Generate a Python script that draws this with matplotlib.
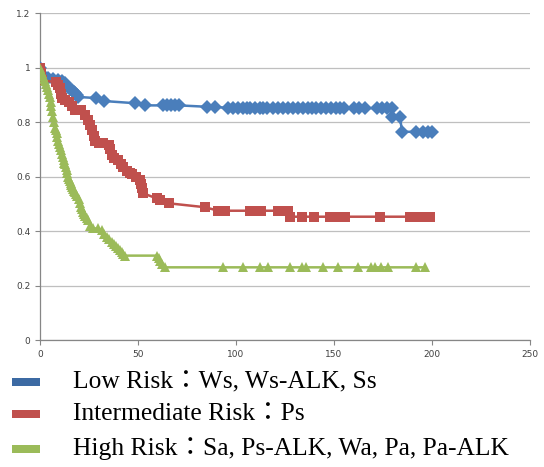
# -*- coding: utf-8 -*-
"""Survival curves by risk group (Excel-style scatter with lines)"""
import matplotlib
matplotlib.use('Agg')
import matplotlib.pyplot as plt
from matplotlib.patches import Rectangle

# ── data ──
low_x = [0, 2, 4.1, 6.5, 9.2, 11, 12.8, 14.3, 15.3, 16.3, 17.1, 17.9, 18.7, 19.4, 28.6, 32.7, 48.5, 53.6,
         63, 65, 67, 69, 71, 85, 89.5,
         96, 98.5, 101, 103.5, 105.5, 107, 109.5, 112, 114, 116, 119, 121.5, 124,
         126.5, 129, 131.5, 134, 136.5, 139, 141, 143.5, 146, 148.5, 151, 153, 155,
         160, 163, 166, 172, 174.5, 177, 179.5, 179.6, 183.7, 184.7, 192, 195.5, 198, 200]
low_y = [1.0, 0.97, 0.962, 0.958, 0.955, 0.95, 0.944, 0.929, 0.924, 0.918, 0.912, 0.907, 0.90, 0.893, 0.889, 0.878, 0.870, 0.862,
         0.862, 0.862, 0.862, 0.862, 0.862, 0.857, 0.857,
         0.852, 0.852, 0.852, 0.852, 0.852, 0.852, 0.852, 0.852, 0.852, 0.852, 0.852, 0.852, 0.852,
         0.852, 0.852, 0.852, 0.852, 0.852, 0.852, 0.852, 0.852, 0.852, 0.852, 0.852, 0.852, 0.852,
         0.852, 0.852, 0.852, 0.852, 0.852, 0.852, 0.852, 0.819, 0.819, 0.765, 0.765, 0.765, 0.765, 0.765]

mid_x = [0, 0.5, 1, 8, 9, 10, 10.5, 11, 13, 15, 16.5, 18, 19.5, 21, 23, 24.6, 25.5, 26.5, 27.3, 28, 30, 32, 35,
         35.8, 36.6, 38, 40, 41.5, 42.5, 44.5, 46, 47, 49, 51, 51.5, 52, 52.3, 59.6, 61, 66, 84,
         91, 94.5, 107, 110, 112.5, 121.5, 124, 126.5, 127.5, 133.6, 140,
         148, 150.5, 153, 155.6, 173.5, 189, 191.5, 194, 196.5, 199]
mid_y = [1.0, 0.98, 0.955, 0.947, 0.936, 0.925, 0.905, 0.888, 0.880, 0.874, 0.860, 0.845, 0.845, 0.845, 0.828, 0.808, 0.790, 0.770, 0.750, 0.730, 0.725, 0.722, 0.716,
         0.70, 0.680, 0.670, 0.660, 0.648, 0.636, 0.622, 0.615, 0.610, 0.598, 0.588, 0.575, 0.558, 0.540, 0.520, 0.515, 0.502, 0.488,
         0.475, 0.475, 0.475, 0.475, 0.475, 0.475, 0.475, 0.475, 0.453, 0.453, 0.453,
         0.453, 0.453, 0.453, 0.453, 0.453, 0.453, 0.453, 0.453, 0.453, 0.453]

high_x = [0, 0.5, 1, 1.5, 2, 2.5, 3, 3.5, 4, 4.5, 5, 5.4, 5.8, 6.2, 6.6, 7.1, 7.6, 8, 8.5, 8.9, 9.3, 9.7,
          10, 10.5, 11, 11.5, 12, 12.4, 12.8, 13.2, 13.6, 14, 14.4, 14.8, 15.2, 15.6,
          16, 16.5, 17, 17.5, 17.9, 18.5, 19, 19.7, 20.4, 21, 21.5, 22, 22.5, 23, 23.8, 24.6, 25.5, 27,
          29.6, 31.6, 32.5, 34, 35.3, 36.6, 38, 39, 40, 41, 42, 42.5, 43.4, 59.6, 60.5, 61, 62, 63.8,
          93.5, 103.6, 112, 116.5, 127.6, 133.6, 135.7, 144.6, 152, 162, 169, 171, 174,
          177.6, 192, 196.4]
high_y = [1.0, 0.99, 0.98, 0.97, 0.96, 0.95, 0.94, 0.93, 0.92, 0.905, 0.893, 0.875, 0.86, 0.84, 0.82, 0.80, 0.78, 0.77, 0.76, 0.745, 0.73, 0.72,
          0.71, 0.697, 0.685, 0.672, 0.66, 0.652, 0.645, 0.635, 0.624, 0.612, 0.60, 0.592, 0.585, 0.577,
          0.569, 0.562, 0.555, 0.549, 0.543, 0.537, 0.53, 0.518, 0.505, 0.49, 0.48, 0.47, 0.462, 0.455, 0.448, 0.44, 0.42, 0.41,
          0.41, 0.404, 0.39, 0.378, 0.37, 0.36, 0.352, 0.345, 0.338, 0.33, 0.322, 0.315, 0.31, 0.31, 0.30, 0.29, 0.28, 0.267,
          0.267, 0.267, 0.267, 0.267, 0.267, 0.267, 0.267, 0.267, 0.267, 0.267, 0.267, 0.267, 0.267,
          0.267, 0.267, 0.267]

labels = ['Low Risk\uff1aWs, Ws-ALK, Ss',
          'Intermediate Risk\uff1aPs',
          'High Risk\uff1aSa, Ps-ALK, Wa, Pa, Pa-ALK']

x_ticks = [0, 50, 100, 150, 200, 250]
y_ticks = [0, 0.2, 0.4, 0.6, 0.8, 1, 1.2]
y_ticklabels = ['0', '0.2', '0.4', '0.6', '0.8', '1', '1.2']

BLUE = '#4a7ebb'
RED = '#c0504d'
GREEN = '#9bbb59'
legend_colors = ['#3c6aa3', '#c0504d', '#9bbb59']

fig = plt.figure(figsize=(5.44, 4.67), dpi=100)
ax = fig.add_axes([40 / 544, 1 - 340 / 467, 490 / 544, 326.6 / 467])

ax.plot(low_x, low_y, color=BLUE, lw=1.8, marker='D', ms=6.8, mew=0, zorder=3)
ax.plot(mid_x, mid_y, color=RED, lw=1.8, marker='s', ms=7.5, mew=0, zorder=3)
ax.plot(high_x, high_y, color=GREEN, lw=1.8, marker='^', ms=7.5, mew=0, zorder=4)

ax.set_xlim(0, 250)
ax.set_ylim(0, 1.2)
ax.set_xticks(x_ticks)
ax.set_yticks(y_ticks)
ax.set_yticklabels(y_ticklabels)
ax.grid(True, axis='y', color='#bfbfbf', lw=0.9)
ax.set_axisbelow(True)
for s in ['top', 'right']:
    ax.spines[s].set_visible(False)
for s in ['left', 'bottom']:
    ax.spines[s].set_color('#868686')
    ax.spines[s].set_linewidth(0.9)
ax.tick_params(colors='#868686', labelcolor='#404040', labelsize=6.5, length=3.5, width=0.8)

# ── legend below the plot ──
row_y = [382, 414, 449]
for lab, col, py in zip(labels, legend_colors, row_y):
    fig.add_artist(Rectangle((12 / 544, 1 - (py + 4) / 467), 28 / 544, 8 / 467,
                             transform=fig.transFigure, color=col, lw=0))
    fig.text(73 / 544, 1 - py / 467, lab, fontsize=18.4, va='center', ha='left',
             family=['Liberation Serif', 'Noto Sans CJK JP'], color='black')

fig.savefig('out.png', dpi=100)
